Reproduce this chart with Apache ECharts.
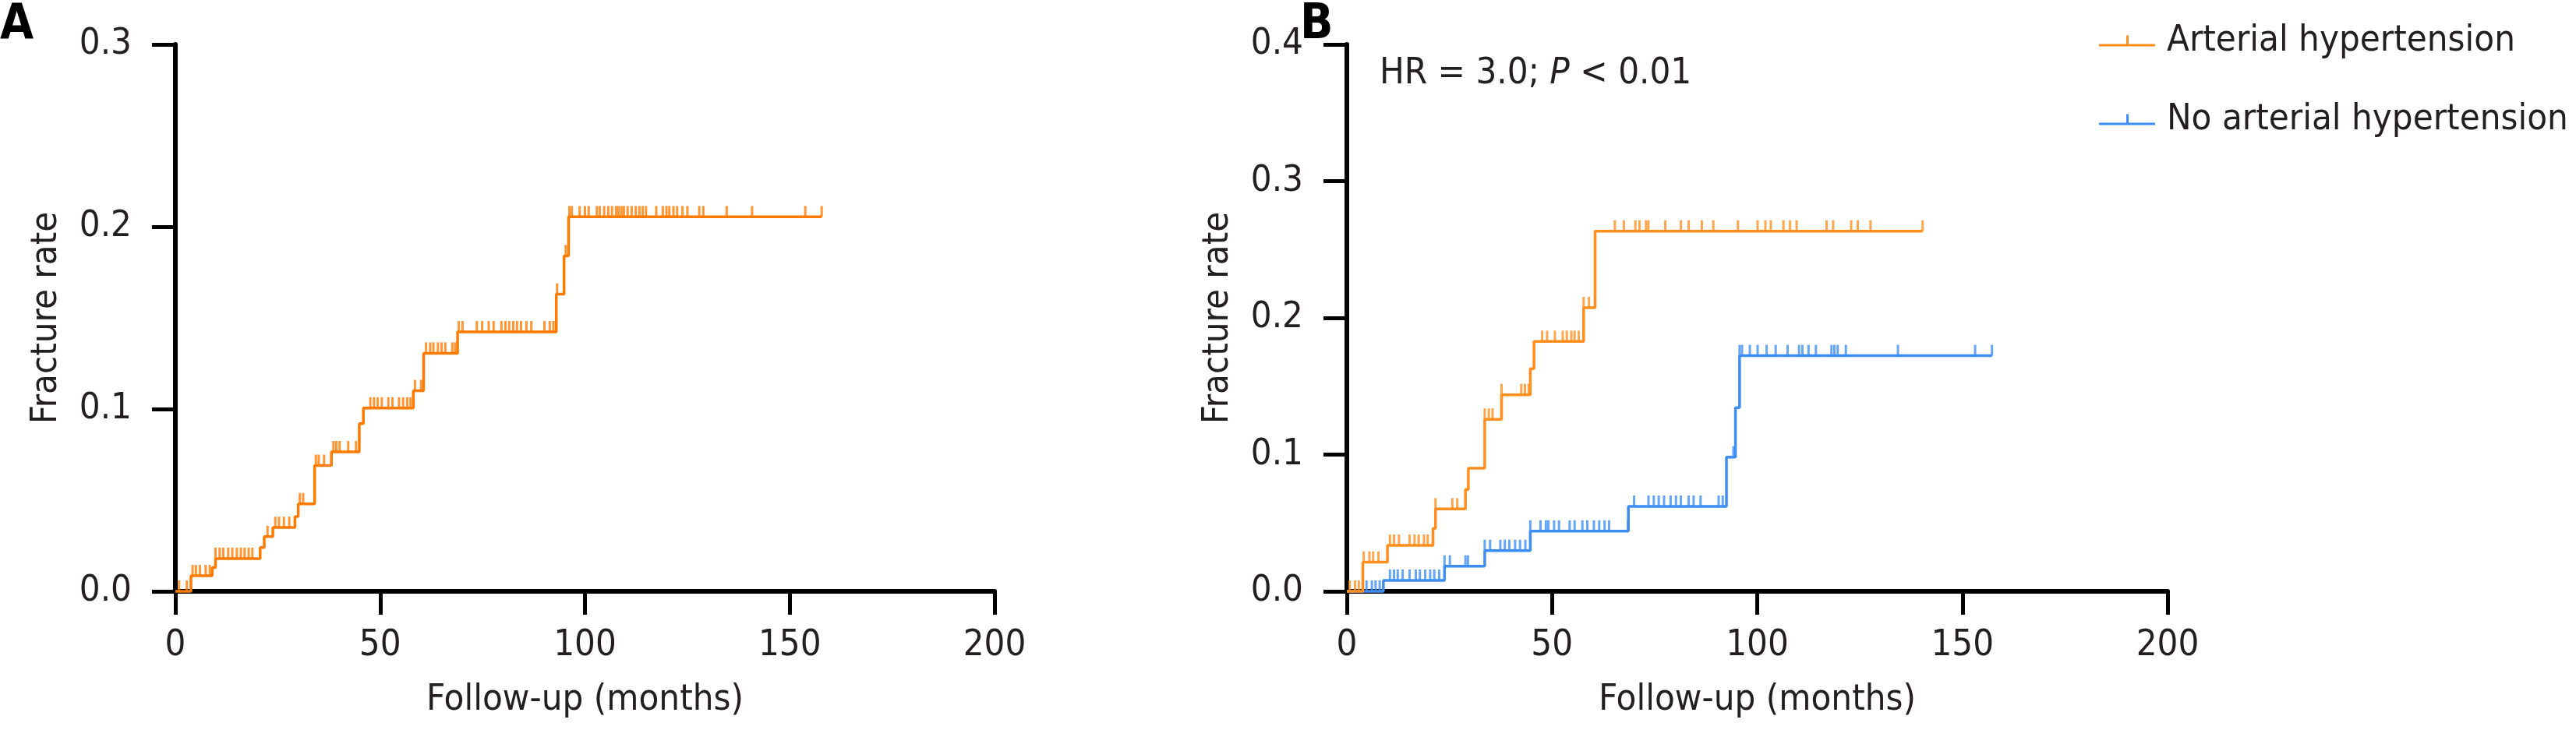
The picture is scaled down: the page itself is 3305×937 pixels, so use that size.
<!DOCTYPE html>
<html>
<head>
<meta charset="utf-8">
<script src="https://cdn.jsdelivr.net/npm/echarts@6/dist/echarts.min.js"></script>
<style>
  html, body { margin: 0; padding: 0; background: #fff; }
  #chart { width: 3305px; height: 937px; }
</style>
</head>
<body>
<div id="chart"></div>
<script>
  // panel A: all patients
  var aTimes = [0, 3.8, 9.0, 9.8, 20.7, 21.7, 23.8, 29.2, 30.0, 34.0, 38.1, 44.9, 45.9, 58.1, 60.6, 68.9, 93.0, 94.9, 96.0]
  var aRates = [0, 0.0085, 0.013, 0.018, 0.024, 0.030, 0.035, 0.041, 0.048, 0.069, 0.0765, 0.092, 0.1005, 0.110, 0.1306, 0.1423, 0.163, 0.184, 0.2054]
  var aEnd = 157.8
  var aCensor = [0.9, 2.8, 4.2, 5.0, 6.0, 7.4, 8.4, 9.8, 10.8, 11.7, 12.9, 13.9, 15.0, 16.0, 16.9, 17.9, 18.8, 22.5, 24.4, 25.3, 26.5, 27.8,
    30.4, 31.2, 34.3, 35.0, 36.3, 38.6, 39.3, 40.1, 42.2, 44.1, 47.6, 48.5, 49.4, 50.4, 52.0, 53.0, 54.6, 55.6, 56.6, 57.4, 58.5, 60.0,
    61.2, 62.2, 63.0, 64.1, 65.0, 65.9, 67.6, 68.3, 69.2, 70.1, 73.6, 74.9, 76.5, 77.7, 79.6, 80.6, 81.5, 82.5, 83.4, 84.4, 85.7, 86.9,
    90.1, 91.4, 92.3, 93.2, 95.3, 96.2, 96.8, 98.7, 100.0, 100.9, 102.9, 103.6, 104.7, 105.7, 106.6, 107.6, 108.2, 108.9, 109.5, 110.4,
    111.4, 112.4, 113.3, 114.1, 114.9, 117.4, 119.0, 119.9, 120.6, 121.6, 122.5, 123.8, 125.0, 127.9, 128.9, 134.6, 140.8, 153.8, 157.8]

  // panel B: arterial hypertension
  var hTimes = [0, 3.9, 9.9, 21.0, 21.6, 28.9, 29.6, 33.6, 37.7, 44.7, 45.6, 57.7, 60.5]
  var hRates = [0, 0.0213, 0.0336, 0.046, 0.0602, 0.0745, 0.090, 0.1258, 0.1438, 0.1628, 0.1827, 0.2074, 0.2634]
  var hEnd = 140.3
  var hCensor = [0.7, 2.0, 2.9, 4.1, 5.5, 6.4, 7.7, 10.5, 11.5, 12.7, 15.3, 16.5, 17.5, 18.8, 19.7, 21.6, 25.7, 26.9, 33.6, 34.6, 35.5,
    37.7, 42.5, 43.4, 44.3, 47.6, 48.8, 50.7, 52.6, 53.6, 54.7, 55.5, 56.5, 57.7, 59.0, 65.3, 67.5, 70.3, 71.3, 72.9, 73.5, 77.6, 81.4,
    83.3, 86.5, 89.3, 95.3, 100.1, 102.0, 103.3, 106.4, 108.0, 109.6, 116.9, 118.5, 122.9, 124.5, 127.6, 140.3]

  // panel B: no arterial hypertension
  var nTimes = [0, 8.9, 23.8, 33.6, 44.7, 68.6, 92.5, 94.7, 95.7]
  var nRates = [0, 0.008, 0.0184, 0.0298, 0.044, 0.0621, 0.0982, 0.1343, 0.1723]
  var nEnd = 157.2
  var nCensor = [4.8, 6.1, 7.0, 8.0, 10.5, 11.5, 12.4, 13.6, 15.3, 16.8, 17.8, 19.1, 20.3, 21.3, 22.5, 23.8, 25.1, 28.9, 29.5, 33.6,
    34.9, 37.4, 38.5, 39.6, 41.0, 42.2, 43.5, 44.7, 47.2, 48.5, 49.1, 50.5, 51.7, 54.3, 55.5, 57.4, 58.6, 60.2, 61.5, 62.8, 63.9, 68.5,
    70.0, 73.5, 74.8, 76.0, 77.3, 78.9, 80.2, 81.4, 83.3, 84.5, 86.2, 90.6, 91.6, 94.2, 95.7, 96.3, 98.2, 100.1, 102.3, 104.5, 107.4,
    110.2, 111.0, 112.5, 114.3, 118.1, 118.8, 119.6, 121.6, 134.3, 153.1, 157.2]

  var FONT = "'DejaVu Sans Condensed', 'DejaVu Sans', sans-serif"
  var FS = 47
  var TXT = '#231f20'

  function stepData(times, rates, end) {
    var d = times.map(function (t, i) { return [t, rates[i]] })
    d.push([end, rates[rates.length - 1]])
    return d
  }
  function rateAt(times, rates, t) {
    var v = 0
    for (var i = 0; i < times.length; i++) {
      if (times[i] <= t) v = rates[i]
    }
    return v
  }
  function censorData(times, rates, cens) {
    return cens.map(function (t) { return [t, rateAt(times, rates, t)] })
  }

  function xAxisOf(idx) {
    return {
      gridIndex: idx, type: 'value', min: 0, max: 200, interval: 50,
      name: 'Follow-up (months)', nameLocation: 'middle', nameGap: 116,
      nameTextStyle: { fontFamily: FONT, fontSize: FS, color: TXT },
      axisLine: { lineStyle: { color: '#000', width: 6 } },
      axisTick: { length: 30, lineStyle: { color: '#000', width: 5 } },
      axisLabel: { margin: 46, fontFamily: FONT, fontSize: FS, color: TXT },
      splitLine: { show: false }
    }
  }
  function yAxisOf(idx, max) {
    return {
      gridIndex: idx, type: 'value', min: 0, max: max, interval: 0.1,
      name: 'Fracture rate', nameLocation: 'middle', nameGap: 142,
      nameTextStyle: { fontFamily: FONT, fontSize: FS, color: TXT },
      axisLine: { show: true, lineStyle: { color: '#000', width: 6 } },
      axisTick: { show: true, length: 30, lineStyle: { color: '#000', width: 5 } },
      axisLabel: { margin: 56, fontFamily: FONT, fontSize: FS, color: TXT,
        formatter: function (v) { return v.toFixed(1) } },
      splitLine: { show: false }
    }
  }
  function stepSeries(name, idx, times, rates, end, color) {
    return {
      name: name, type: 'line', step: 'end', xAxisIndex: idx, yAxisIndex: idx,
      data: stepData(times, rates, end), showSymbol: false, clip: false,
      lineStyle: { color: color, width: 3.5 }, itemStyle: { color: color }, z: 3
    }
  }
  function censorSeries(name, idx, times, rates, cens, color) {
    return {
      name: name, type: 'scatter', xAxisIndex: idx, yAxisIndex: idx,
      data: censorData(times, rates, cens), symbol: 'rect', symbolSize: [3, 14], symbolOffset: [0, -7],
      itemStyle: { color: color }, clip: false, silent: true, z: 3
    }
  }

  var chart = echarts.init(document.getElementById('chart'))
  chart.setOption({
    animation: false,
    backgroundColor: '#fff',
    grid: [
      { left: 225, top: 57, width: 1051, height: 702 },
      { left: 1728, top: 57, width: 1053, height: 702 }
    ],
    xAxis: [xAxisOf(0), xAxisOf(1)],
    yAxis: [yAxisOf(0, 0.3), yAxisOf(1, 0.4)],
    legend: {
      data: [
        { name: 'Arterial hypertension', icon: 'path://M0,12H72V15H0Z M35,1H38V12H35Z' },
        { name: 'No arterial hypertension', icon: 'path://M0,12H72V15H0Z M35,1H38V12H35Z' }
      ],
      orient: 'vertical', left: 2688, top: 24, itemWidth: 72, itemHeight: 15, itemGap: 54,
      textStyle: { fontFamily: FONT, fontSize: FS, color: TXT, padding: [0, 0, 0, 10] },
      selectedMode: false
    },
    graphic: [
      { type: 'text', left: 0, top: 2, style: { text: 'A', fontFamily: FONT, fontWeight: 'bold', fontSize: 62, fill: '#000' } },
      { type: 'text', left: 1668, top: 2, style: { text: 'B', fontFamily: FONT, fontWeight: 'bold', fontSize: 62, fill: '#000' } },
      { type: 'text', left: 1770, top: 71, style: {
          text: '{n|HR = 3.0; }{i|P}{n| < 0.01}',
          rich: {
            n: { fontFamily: FONT, fontSize: FS, fill: TXT },
            i: { fontFamily: FONT, fontSize: FS, fontStyle: 'italic', fill: TXT }
          }
        } }
    ],
    series: [
      stepSeries('All', 0, aTimes, aRates, aEnd, '#ff7b00'),
      censorSeries('All', 0, aTimes, aRates, aCensor, '#ff7b00'),
      stepSeries('No arterial hypertension', 1, nTimes, nRates, nEnd, '#3d8ef2'),
      censorSeries('No arterial hypertension', 1, nTimes, nRates, nCensor, '#3d8ef2'),
      stepSeries('Arterial hypertension', 1, hTimes, hRates, hEnd, '#ff8e1f'),
      censorSeries('Arterial hypertension', 1, hTimes, hRates, hCensor, '#ff8e1f')
    ]
  })
</script>
</body>
</html>
